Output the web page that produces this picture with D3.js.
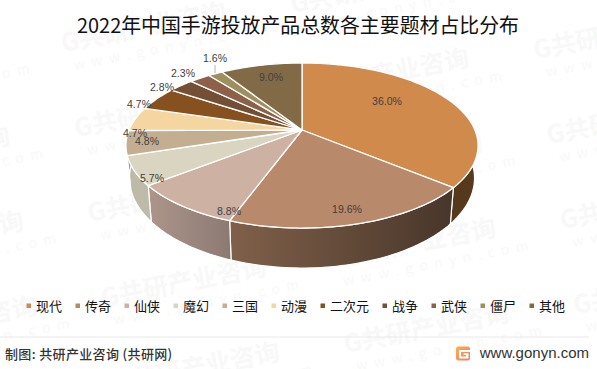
<!DOCTYPE html>
<html>
<head>
<meta charset="utf-8">
<script src="https://cdn.jsdelivr.net/npm/d3@7"></script>
<style>
html, body { margin: 0; padding: 0; background: #fff; }
svg { display: block; font-family: "Noto Sans CJK SC", "Noto Sans", sans-serif; }
</style>
</head>
<body>
<div id="chart"></div>
<script>
const chartTitle = "2022年中国手游投放产品总数各主要题材占比分布";
const categories = ["现代", "传奇", "仙侠", "魔幻", "三国", "动漫", "二次元", "战争", "武侠", "僵尸", "其他"];
const shares = [36.0, 19.6, 8.8, 5.7, 4.8, 4.7, 4.7, 2.8, 2.3, 1.6, 9.0];

const topColors = ["#d08a4c", "#b9896b", "#cdb1a3", "#dad5c1", "#c3ae91", "#f5d5a0", "#87501f", "#734f35", "#8d6049", "#a08f5e", "#826a47"];
const wallLeft = ["#4f3119", "#80604a", "#ad958b", "#bdb9a7", "#a8967d", "#c4aa80", "#6c4019", "#5c3f2a", "#714d3a", "#80724b", "#685539"];
const wallRight = ["#57391d", "#48362a", "#8c7a72", "#bfbbaa", "#a8967d", "#c4aa80", "#6c4019", "#5c3f2a", "#714d3a", "#80724b", "#685539"];

// where excel left each data label, same order as shares
const labelX = [387, 347, 229, 152, 147, 135, 139, 162, 183, 215, 271];
const labelY = [101, 209, 211, 178, 141, 133, 104, 87, 73, 58, 77];

const width = 597, height = 369;

const svg = d3.select("#chart").append("svg")
	.attr("width", width)
	.attr("height", height);

const defs = svg.append("defs");

// watermark tiles
const tileA = [229.5, -39], tileB = [13.3, 85];
const wm = svg.append("g").attr("class", "watermark");
for (let i = -2; i < 4; i++) {
	for (let j = -1; j < 5; j++) {
		const tx = 63 + i * tileA[0] + j * tileB[0];
		const ty = 52 + i * tileA[1] + j * tileB[1];
		if (tx < -220 || tx > width || ty < -10 || ty > height + 50) continue;
		const g = wm.append("g").attr("transform", "translate(" + tx + "," + ty + ") rotate(-11)");
		g.append("text")
			.attr("font-size", 25)
			.attr("font-weight", 700)
			.attr("fill", "#f8f8f8")
			.text("G共研产业咨询");
		g.append("text")
			.attr("x", 8)
			.attr("y", 20)
			.attr("font-size", 14)
			.attr("letter-spacing", 6.6)
			.attr("fill", "#f8f8f8")
			.text("www.gonyn.com");
	}
}

svg.append("text")
	.attr("x", 298)
	.attr("y", 32.5)
	.attr("text-anchor", "middle")
	.attr("font-size", 19.9)
	.attr("fill", "#111")
	.text(chartTitle);

// perspective pie: the disc is a unit circle pushed through a projective divide
const tilt = 0.188;
const xScale = d3.scaleLinear().domain([-1, 1]).range([302 - 172.9, 302 + 172.9]);
const yScale = d3.scaleLinear().domain([-1, 1]).range([130 - 79.6, 130 + 79.6]);
const rimFront = yScale(1 / (1 - tilt));

function project(angle, r) {
	const u = Math.sin(angle) * r;
	const v = -Math.cos(angle) * r;
	const w = 1 - tilt * v;
	return [xScale(u / w), yScale(v / w)];
}

// lower rim of the side wall, slightly narrower than the top
function drop(p) {
	return [xScale(0) + (p[0] - xScale(0)) * 0.98, p[1] + 40 + (p[1] - rimFront) * 0.09];
}

const arcs = d3.pie().sort(null)(shares);
const line = d3.line();

function rimPoints(d) {
	const n = Math.max(4, Math.ceil((d.endAngle - d.startAngle) * 40));
	return d3.range(n + 1).map(k => project(d.startAngle + (d.endAngle - d.startAngle) * k / n, 1));
}

// walls first, the top face then covers whatever is at the back
arcs.forEach(function(d, i) {
	const rim = rimPoints(d);
	const xs = rim.map(p => p[0]);
	const grad = defs.append("linearGradient")
		.attr("id", "wall" + i)
		.attr("gradientUnits", "userSpaceOnUse")
		.attr("x1", d3.min(xs)).attr("x2", d3.max(xs))
		.attr("y1", 0).attr("y2", 0);
	grad.append("stop").attr("offset", 0).attr("stop-color", wallLeft[i]);
	grad.append("stop").attr("offset", 1).attr("stop-color", wallRight[i]);
	svg.append("path")
		.attr("d", line(rim.concat(rim.map(drop).reverse())) + "Z")
		.attr("fill", "url(#wall" + i + ")")
		.attr("stroke", "#fff")
		.attr("stroke-width", 1.2);
});

svg.append("g").selectAll("path")
	.data(arcs)
	.join("path")
	.attr("d", d => line([project(0, 0)].concat(rimPoints(d))) + "Z")
	.attr("fill", (d, i) => topColors[i])
	.attr("stroke", "#fff")
	.attr("stroke-width", 1.3)
	.attr("stroke-linejoin", "round");

// leader of the 1.6% label
svg.append("line")
	.attr("x1", labelX[9]).attr("x2", labelX[9])
	.attr("y1", labelY[9] + 7).attr("y2", labelY[9] + 15)
	.attr("stroke", "#a6a6a6")
	.attr("stroke-width", 0.8);

svg.append("g").selectAll("text")
	.data(shares)
	.join("text")
	.attr("x", (d, i) => labelX[i])
	.attr("y", (d, i) => labelY[i])
	.attr("dy", "0.35em")
	.attr("text-anchor", "middle")
	.attr("font-family", "'Liberation Sans', sans-serif")
	.attr("font-size", 10.5)
	.attr("fill", "#404040")
	.text(d => d.toFixed(1) + "%");

// legend, flows left to right
let legendX = 28.5;
categories.forEach(function(name, i) {
	svg.append("rect")
		.attr("x", legendX - 2)
		.attr("y", 303.5)
		.attr("width", 4.5)
		.attr("height", 4.5)
		.attr("fill", topColors[i]);
	svg.append("text")
		.attr("x", legendX + 7.5)
		.attr("y", 310.5)
		.attr("font-size", 13)
		.attr("fill", "#111")
		.text(name);
	legendX += 23 + 13 * name.length;
});

// footer
svg.append("line")
	.attr("x1", 0).attr("x2", 589)
	.attr("y1", 337).attr("y2", 337)
	.attr("stroke", "#e9e9e9")
	.attr("stroke-width", 1);

svg.append("text")
	.attr("x", 5)
	.attr("y", 358.5)
	.attr("font-size", 13)
	.attr("letter-spacing", 0.35)
	.attr("font-weight", 500)
	.attr("fill", "#333")
	.text("制图: 共研产业咨询 (共研网)");

svg.append("text")
	.attr("x", 589)
	.attr("y", 358)
	.attr("text-anchor", "end")
	.attr("font-family", "'Liberation Sans', sans-serif")
	.attr("font-size", 15)
	.attr("fill", "#333")
	.text("www.gonyn.com");

const logoGrad = defs.append("linearGradient")
	.attr("id", "logoGrad")
	.attr("x1", 0).attr("y1", 0).attr("x2", 1).attr("y2", 1);
logoGrad.append("stop").attr("offset", 0).attr("stop-color", "#fbb04f");
logoGrad.append("stop").attr("offset", 1).attr("stop-color", "#f37a63");

const logo = svg.append("g").attr("transform", "translate(456,346.5)");
logo.append("rect")
	.attr("width", 14).attr("height", 14).attr("rx", 2.5)
	.attr("fill", "url(#logoGrad)");
logo.append("path")
	.attr("d", "M3 3.5H14V5.5H5V10H10V8.5H7.5V6.8H12.5V12H3Z")
	.attr("fill", "#fff");
</script>
</body>
</html>
